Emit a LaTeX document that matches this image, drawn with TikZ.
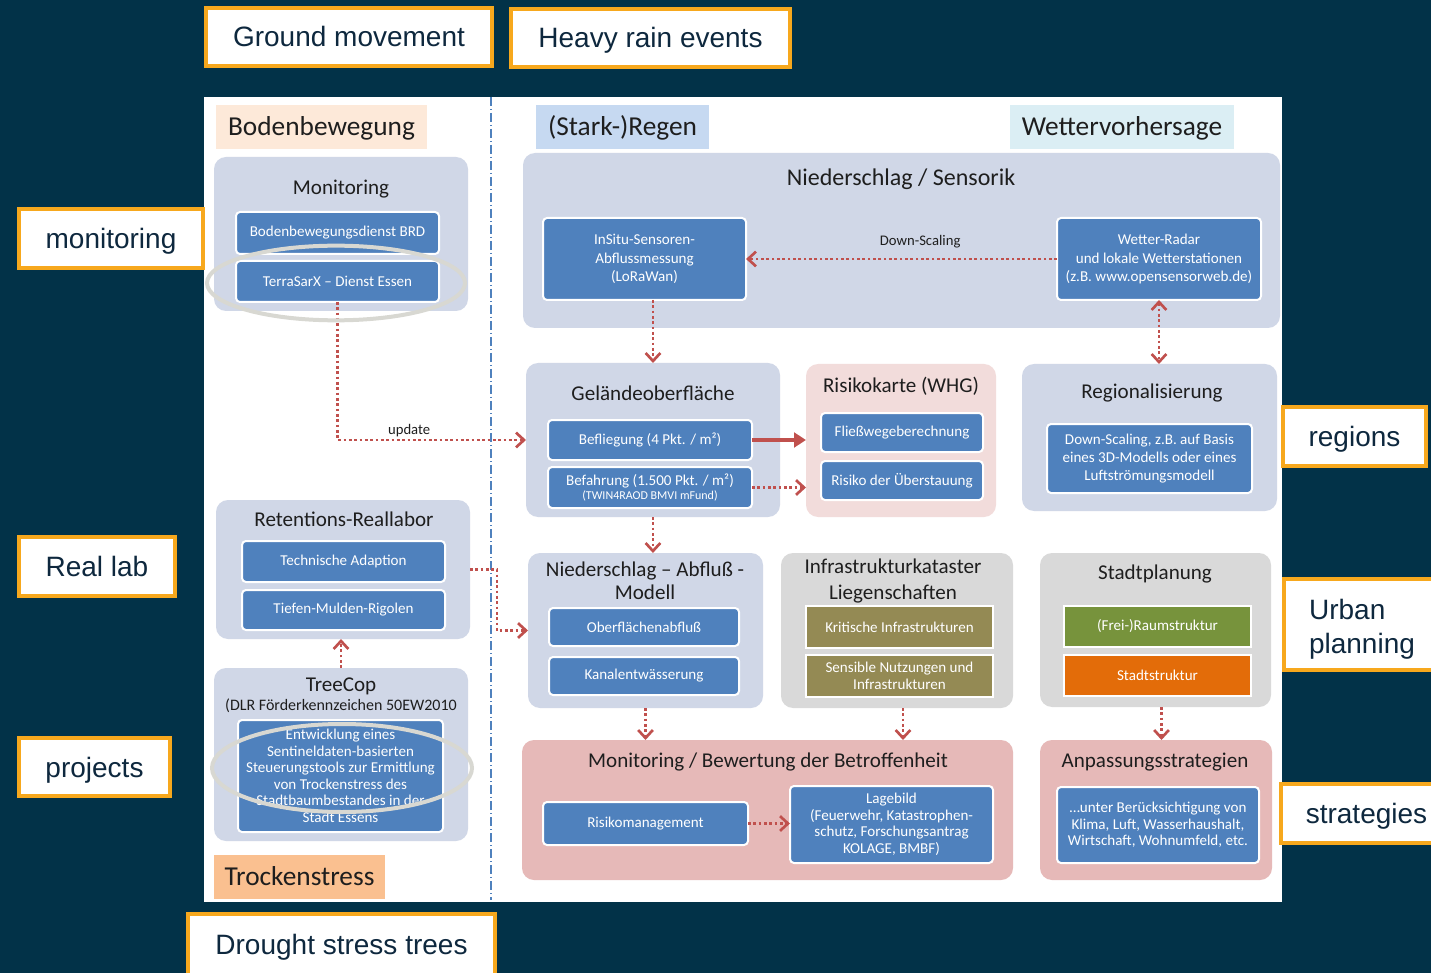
\documentclass[tikz,border=0pt]{standalone}
\usepackage{fontspec}
\setmainfont{Carlito}
\newfontfamily\labfont{Liberation Sans}
\usetikzlibrary{arrows.meta}
\definecolor{navy}{RGB}{2,50,72}
\definecolor{olabc}{RGB}{247,168,29}
\definecolor{labtxt}{RGB}{14,40,62}
\definecolor{txtdark}{RGB}{30,30,30}
\definecolor{panelblue}{RGB}{208,215,231}
\definecolor{boxblue}{RGB}{79,129,189}
\definecolor{pinklight}{RGB}{242,220,219}
\definecolor{pinkdark}{RGB}{230,185,184}
\definecolor{panelgray}{RGB}{217,217,217}
\definecolor{olive}{RGB}{148,138,84}
\definecolor{greenbox}{RGB}{119,147,60}
\definecolor{orangebox}{RGB}{227,108,9}
\definecolor{arrred}{RGB}{192,80,77}
\definecolor{peach}{RGB}{253,233,217}
\definecolor{peachdark}{RGB}{250,192,144}
\definecolor{lightblue}{RGB}{198,217,241}
\definecolor{lightcyan}{RGB}{219,238,244}
\definecolor{ellcol}{RGB}{216,216,210}
\newcommand\mkbox[7]{\node[#1, anchor=north west, inner sep=0pt, outer sep=0pt, minimum width={(#5-#3)*0.75pt}, minimum height={(#6-#4)*0.75pt}, align=center] (#2) at (#3,#4) {#7};}
\tikzset{
  panel/.style={fill=panelblue, rounded corners=9pt},
  ibox/.style={fill=boxblue, draw=white, line width=1.5pt, rounded corners=3pt, text=white, font=\fontsize{11.3}{13.8}\selectfont},
  ibox2/.style={ibox, font=\fontsize{11.3}{12.4}\selectfont},
  sbox/.style={draw=white, line width=1.5pt, text=white, font=\fontsize{11.3}{13.8}\selectfont},
  ttl/.style={text=txtdark, font=\fontsize{15.8}{18}\selectfont, align=center, inner sep=0pt, text height=12pt, text depth=1.8pt},
  ttlm/.style={ttl, text height=, text depth=},
  tag/.style={font=\fontsize{20.5}{24}\selectfont, text=txtdark, text height=17pt, text depth=3.8pt},
  olab/.style={fill=white, draw=olabc, line width=3pt, text=labtxt, font=\labfont\fontsize{21}{25.5}\selectfont, text height=19pt, text depth=4pt},
  small/.style={text=txtdark, font=\fontsize{11}{13}\selectfont, inner sep=1pt},
  dotarrow/.style={draw=arrred, line width=2pt, dash pattern=on 2pt off 2pt, -{Straight Barb[length=6pt,width=11pt]}},
  dotboth/.style={draw=arrred, line width=2pt, dash pattern=on 2pt off 2pt, {Straight Barb[length=6pt,width=11pt]}-{Straight Barb[length=6pt,width=11pt]}},
  solidarrow/.style={draw=arrred, line width=2.3pt, -{Triangle[length=9pt,width=11pt]}},
}
\begin{document}
\begin{tikzpicture}[x=0.75pt, y=-0.75pt]
% background and canvas
\fill[navy] (0,0) rectangle (1431,973);
\useasboundingbox (0,0) rectangle (1431,973);
\fill[white] (204,97) rectangle (1282,902);
\draw[boxblue, line width=0.9pt, dash pattern=on 7pt off 2pt on 1pt off 2pt] (491,97) -- (491,900);

% section tags
\mkbox{fill=peach, tag}{gbod}{216}{105}{427}{149}{Bodenbewegung}
\mkbox{fill=lightblue, tag}{gstark}{536}{105}{709}{149}{(Stark-)Regen}
\mkbox{fill=lightcyan, tag}{gwett}{1010}{105}{1234}{149}{Wettervorhersage}
\mkbox{fill=peachdark, tag}{gtrock}{214}{855}{385}{899}{Trockenstress}

% panels
\mkbox{panel}{pmon}{214}{157}{468}{311}{}
\mkbox{panel}{psens}{523}{153}{1280}{328}{}
\mkbox{panel}{pgel}{526}{363}{780}{517}{}
\mkbox{panel, fill=pinklight}{prisk}{806}{364}{996}{517}{}
\mkbox{panel}{preg}{1022}{364}{1277}{511}{}
\mkbox{panel}{pret}{216}{500}{470}{639}{}
\mkbox{panel}{ptree}{214}{668}{468}{841}{}
\mkbox{panel}{pnam}{528}{553}{763}{708}{}
\mkbox{panel, fill=panelgray}{pinf}{781}{553}{1013}{708}{}
\mkbox{panel, fill=panelgray}{pstadt}{1040}{553}{1271}{707}{}
\mkbox{panel, fill=pinkdark}{pmonb}{522}{740}{1013}{880}{}
\mkbox{panel, fill=pinkdark}{panp}{1040}{740}{1272}{880}{}

% titles
\node[ttl] (tmon) at (341,188) {Monitoring};
\node[ttl, font=\fontsize{18}{21}\selectfont, text height=13.5pt, text depth=2pt] (tsens) at (901,178) {Niederschlag / Sensorik};
\node[ttl] (tgel) at (653,394) {Geländeoberfläche};
\node[ttl] (trisk) at (901,386) {Risikokarte (WHG)};
\node[ttl] (treg) at (1152,392) {Regionalisierung};
\node[ttl] (tret) at (344,520) {Retentions-Reallabor};
\node[ttl] (ttree) at (341,685) {TreeCop};
\node[ttl, font=\fontsize{12}{14}\selectfont, text height=9.3pt, text depth=1.5pt] (ttree2) at (341,705) {(DLR Förderkennzeichen  50EW2010};
\node[ttlm, font=\fontsize{15.8}{17.5}\selectfont] (tnam) at (645,581) {Niederschlag – Abfluß -\\Modell};
\node[ttlm, font=\fontsize{15.8}{19}\selectfont] (tinf) at (893,581) {Infrastrukturkataster\\Liegenschaften};
\node[ttl] (tstadt) at (1155,573) {Stadtplanung};
\node[ttl] (tmonb) at (768,761) {Monitoring / Bewertung der Betroffenheit};
\node[ttl] (tanp) at (1155,761) {Anpassungsstrategien};

% inner boxes
\mkbox{ibox}{bbrd}{236}{212}{439}{254}{Bodenbewegungsdienst BRD}
\mkbox{ibox}{bterra}{236}{261}{439}{302}{TerraSarX – Dienst Essen}
\mkbox{ibox}{binsitu}{543}{218}{746}{300}{InSitu-Sensoren-\\Abflussmessung\\(LoRaWan)}
\mkbox{ibox}{bwetter}{1057}{218}{1261}{300}{Wetter-Radar\\und lokale Wetterstationen\\(z.B. www.opensensorweb.de)}
\mkbox{ibox}{bbefl}{548}{420}{752}{460}{Befliegung (4 Pkt. / m²)}
\mkbox{ibox, font=\fontsize{11.3}{11}\selectfont}{bbefa}{548}{467}{752}{508}{Befahrung (1.500 Pkt. / m²)\\{\fontsize{9}{10}\selectfont (TWIN4RAOD BMVI mFund)}}
\mkbox{ibox}{bflie}{821}{413}{983}{452}{Fließwegeberechnung}
\mkbox{ibox}{bueber}{821}{461}{983}{500}{Risiko der Überstauung}
\mkbox{ibox}{bdown}{1047}{424}{1252}{493}{Down-Scaling, z.B. auf Basis\\eines 3D-Modells oder eines\\Luftströmungsmodell}
\mkbox{ibox}{btech}{242}{541}{445}{582}{Technische Adaption}
\mkbox{ibox}{btief}{242}{590}{445}{630}{Tiefen-Mulden-Rigolen}
\mkbox{ibox2}{btreec}{238}{720}{443}{832}{Entwicklung eines\\Sentineldaten-basierten\\Steuerungstools zur Ermittlung\\von Trockenstress des\\Stadtbaumbestandes in der\\Stadt Essens}
\mkbox{ibox}{bober}{549}{608}{739}{646}{Oberflächenabfluß}
\mkbox{ibox}{bkanal}{549}{657}{739}{695}{Kanalentwässerung}
\mkbox{sbox, fill=olive}{bkrit}{806}{606}{993}{648}{Kritische Infrastrukturen}
\mkbox{sbox, fill=olive, font=\fontsize{11.3}{12.4}\selectfont}{bsens}{806}{655}{993}{697}{Sensible Nutzungen und\\Infrastrukturen}
\mkbox{sbox, fill=greenbox}{bfrei}{1064}{606}{1251}{647}{(Frei-)Raumstruktur}
\mkbox{sbox, fill=orangebox}{bstadt}{1064}{655}{1251}{696}{Stadtstruktur}
\mkbox{ibox}{brisk}{543}{802}{748}{845}{Risikomanagement}
\mkbox{ibox2}{blage}{790}{786}{993}{863}{Lagebild\\(Feuerwehr, Katastrophen-\\schutz, Forschungsantrag\\KOLAGE, BMBF)}
\mkbox{ibox2}{banp}{1057}{787}{1259}{863}{…unter Berücksichtigung von\\Klima, Luft, Wasserhaushalt,\\Wirtschaft, Wohnumfeld, etc.}

% connectors
\draw[dotarrow] (bterra.south) |- node[small, pos=0.69, above] {update} (pgel.west);
\draw[dotarrow] (bwetter.west) -- node[small, pos=0.44, above=6pt] {Down-Scaling} (binsitu.east);
\draw[dotarrow] (binsitu.south -| pgel.north) -- (pgel.north);
\draw[dotboth] (bwetter.south) -- (bwetter.south |- preg.north);
\draw[solidarrow] (bbefl.east) -- (bbefl.east -| prisk.west);
\draw[dotarrow] (bbefa.east) -- (bbefa.east -| prisk.west);
\draw[dotarrow] ([xshift=5.6pt]pnam.north |- pgel.south) -- ([xshift=5.6pt]pnam.north);
\coordinate (bend) at (497,569.5);
\draw[dotarrow] (pret.east) -- (bend) |- (pnam.west);
\draw[dotarrow] (ptree.north) -- (ptree.north |- pret.south);
\draw[dotarrow] (pnam.south) -- (pnam.south |- pmonb.north);
\draw[dotarrow] ([xshift=4.5pt]pinf.south) -- ([xshift=4.5pt]pinf.south |- pmonb.north);
\draw[dotarrow] ([xshift=4.5pt]pstadt.south) -- ([xshift=4.5pt]pstadt.south |- panp.north);
\draw[dotarrow] (brisk.east) -- (brisk.east -| blage.west);

% highlight ellipses
\draw[ellcol, line width=3pt] (336,283) ellipse [x radius=96.75pt, y radius=28pt];
\draw[ellcol, line width=3pt] (342,768) ellipse [x radius=97.5pt, y radius=33pt];

% outer English labels
\mkbox{olab}{lgm}{206}{8}{492}{66}{Ground movement}
\mkbox{olab}{lhr}{511}{9}{790}{67}{Heavy rain events}
\mkbox{olab}{lmon}{19}{209}{203}{268}{monitoring}
\mkbox{olab}{lrl}{19}{537}{175}{596}{Real lab}
\mkbox{olab}{lpr}{19}{738}{170}{796}{projects}
\mkbox{olab}{lreg}{1283}{407}{1426}{466}{regions}
\mkbox{olab, text height=, text depth=}{lup}{1284}{579}{1440}{670}{\raisebox{-4pt}[\height][\depth]{\begin{tabular}{@{}l@{}}Urban\\planning\end{tabular}}}
\mkbox{olab}{lstr}{1281}{784}{1452}{843}{strategies}
\mkbox{olab}{ldst}{188}{914}{495}{975}{Drought stress trees}
\end{tikzpicture}
\end{document}
